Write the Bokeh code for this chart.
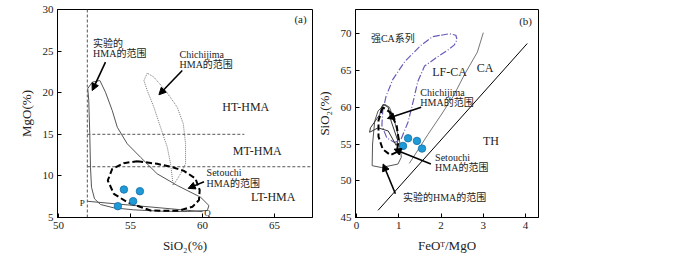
from bokeh.plotting import figure
from bokeh.layouts import row
from bokeh.models import Arrow, NormalHead, FixedTicker
from bokeh.core.properties import value
from bokeh.embed import file_html
from bokeh.resources import INLINE

FONT = "Liberation Serif, Noto Sans CJK SC"

# ---------------- panel (a) data ----------------
a_xticks = [50, 55, 60, 65]
a_yticks = [5, 10, 15, 20, 25, 30]
exp_a_x = [52.34, 52.87, 53.26, 53.73, 54.08, 54.77, 55.69, 56.85, 58.24, 59.86, 60.44, 60.33,
           58.94, 57.09, 55.23, 53.84, 52.92, 52.5, 52.29, 52.22, 52.17, 52.1, 52.03, 52.34]
exp_a_y = [21.26, 21.47, 20.06, 17.86, 15.85, 13.86, 12.25, 10.25, 8.85, 7.44, 6.44, 5.84,
           5.72, 5.76, 5.92, 6.16, 6.56, 7.24, 8.64, 11.05, 15.06, 19.06, 20.5, 21.26]
chi_a_x = [55.93, 56.16, 56.62, 57.08, 57.55, 57.78, 57.96, 58.47, 58.82, 58.82, 58.66, 58.24,
           57.43, 56.62, 56.16, 55.93]
chi_a_y = [21.47, 20.26, 18.26, 15.85, 13.45, 11.45, 8.85, 10.25, 11.45, 13.86, 16.26, 18.26,
           20.26, 21.87, 22.35, 21.47]
set_a_x = [55.46, 56.85, 57.9, 58.7, 59.5, 59.8, 59.75, 59.3, 58.3, 56.39, 54.77, 53.84, 53.42,
           53.73, 54.53, 55.46]
set_a_y = [11.77, 11.45, 11.05, 10.6, 9.7, 8.3, 7.1, 6.3, 5.8, 5.84, 6.84, 7.85, 9.45,
           10.85, 11.53, 11.77]
pq_x = [52.0, 60.0]
pq_y = [6.95, 5.7]
pts_a_x = [54.54, 55.65, 55.18, 54.12]
pts_a_y = [8.36, 8.16, 6.96, 6.36]

# ---------------- panel (b) data ----------------
b_xticks = [0, 1, 2, 3, 4]
b_yticks = [45, 50, 55, 60, 65, 70]
th_x = [0.51, 4.04]
th_y = [45.98, 68.67]
ca_x = [1.25, 1.69, 2.0, 2.3, 2.55, 2.86, 3.0]
ca_y = [52.36, 56.3, 58.94, 61.6, 64.4, 67.5, 70.15]
sca_x = [2.0, 2.2, 2.35, 2.38, 2.31, 2.16, 1.92, 1.61, 1.45, 1.35, 1.22, 1.05, 0.9, 0.72, 0.6,
         0.62, 0.7, 0.86, 1.14, 1.53, 1.8, 2.0]
sca_y = [69.8, 70.0, 69.8, 69.2, 68.45, 67.78, 66.87, 65.6, 63.5, 61.0, 58.0, 55.6, 55.2, 55.8,
         57.5, 59.5, 61.5, 63.8, 66.2, 68.45, 69.6, 69.8]
chi_b_x = [0.63, 0.75, 0.82, 0.98, 0.94, 0.75, 0.51, 0.31, 0.33, 0.55, 0.59, 0.63]
chi_b_y = [60.4, 60.0, 58.1, 55.4, 54.8, 56.77, 57.2, 56.6, 57.2, 59.0, 60.0, 60.4]
exp_b_x = [0.67, 0.78, 0.9, 1.02, 1.06, 0.98, 0.59, 0.37, 0.38, 0.43, 0.51, 0.67]
exp_b_y = [60.4, 60.0, 58.1, 55.4, 53.2, 52.27, 51.8, 52.05, 55.0, 58.1, 59.5, 60.4]
set_b_x = [0.62, 0.52, 0.52, 0.62, 0.8, 0.95, 1.0, 0.95, 0.8, 0.62]
set_b_y = [60.0, 58.2, 56.0, 54.3, 53.5, 53.9, 55.5, 57.5, 59.3, 60.0]
pts_b_x = [1.1, 1.22, 1.43, 1.55]
pts_b_y = [54.74, 55.78, 55.42, 54.38]

TXT = "#222222"


def style(p, xticks, yticks, xlabel, ylabel):
    p.xgrid.visible = False
    p.ygrid.visible = False
    p.outline_line_color = "black"
    p.outline_line_width = 1
    p.xaxis.ticker = FixedTicker(ticks=xticks)
    p.yaxis.ticker = FixedTicker(ticks=yticks)
    p.xaxis.axis_label = xlabel
    p.yaxis.axis_label = ylabel
    for ax in (p.xaxis, p.yaxis):
        ax.major_tick_in = 4
        ax.major_tick_out = 0
        ax.minor_tick_in = 0
        ax.minor_tick_out = 0
        ax.axis_line_color = "black"
        ax.major_tick_line_color = "black"
        ax.major_label_text_font = FONT
        ax.major_label_text_font_size = "11px"
        ax.major_label_text_color = TXT
        ax.axis_label_text_font = FONT
        ax.axis_label_text_font_size = "13px"
        ax.axis_label_text_font_style = "normal"
        ax.axis_label_text_color = TXT
        ax.major_label_standoff = 4
        ax.axis_label_standoff = 6


def txt(p, x, y, s, size="10px", align="left"):
    p.text(x=[x], y=[y], text=[s], text_font=value(FONT), text_font_size=size,
           text_align=align, text_baseline="middle", text_color=TXT)


def arrows(p, xs, ys, xe, ye):
    for a, b, c, d in zip(xs, ys, xe, ye):
        p.add_layout(Arrow(x_start=a, y_start=b, x_end=c, y_end=d, line_width=1.6,
                           line_color="black",
                           end=NormalHead(size=7, fill_color="black", line_color="black")))


# ---------------- figure (a) ----------------
p1 = figure(width=313, height=260, x_range=(49.93, 67.63), y_range=(5, 30),
            output_backend="svg", toolbar_location=None,
            min_border_left=57, min_border_right=1, min_border_top=9, min_border_bottom=43)
style(p1, a_xticks, a_yticks, "SiO₂(%)", "MgO(%)")

p1.line([52, 52], [5, 30], line_color="#555555", line_width=1, line_dash="3 2")
p1.line([52, 62.9], [15, 15], line_color="#555555", line_width=1, line_dash="3 2")
p1.line([52, 67.63], [11.1, 11.1], line_color="#555555", line_width=1, line_dash="3 2")
p1.line(exp_a_x, exp_a_y, line_color="#555555", line_width=1)
p1.line(pq_x, pq_y, line_color="#555555", line_width=1)
p1.line(chi_a_x, chi_a_y, line_color="#777777", line_width=1, line_dash="1 1")
p1.line(set_a_x, set_a_y, line_color="black", line_width=2, line_dash="6 3")
p1.scatter(pts_a_x, pts_a_y, size=7.5, fill_color="#1e9ad6", line_color="#1670a8", line_width=0.8)

txt(p1, 63.0, 18.3, "HT-HMA", "12px", "center")
txt(p1, 63.8, 13.05, "MT-HMA", "12px", "center")
txt(p1, 64.9, 7.44, "LT-HMA", "12px", "center")
txt(p1, 66.8, 28.8, "(a)", "11px", "center")
txt(p1, 52.4, 25.87, "实验的")
txt(p1, 52.4, 24.67, "HMA的范围")
txt(p1, 58.4, 24.55, "Chichijima")
txt(p1, 58.4, 23.35, "HMA的范围")
txt(p1, 60.28, 10.37, "Setouchi")
txt(p1, 60.28, 9.12, "HMA的范围")
txt(p1, 51.64, 6.8, "P", "9px", "center")
txt(p1, 60.35, 5.5, "Q", "9px", "center")
arrows(p1, [53.26, 58.59, 60.1], [23.67, 22.67, 9.3], [52.34, 56.97, 59.0], [20.26, 19.75, 8.5])

# ---------------- figure (b) ----------------
p2 = figure(width=387, height=260, x_range=(-0.024, 4.306), y_range=(45, 73.3),
            output_backend="svg", toolbar_location=None,
            min_border_left=41, min_border_right=162, min_border_top=7, min_border_bottom=43)
style(p2, b_xticks, b_yticks, "FeOᵀ/MgO", "SiO₂(%)")

p2.line(th_x, th_y, line_color="black", line_width=1)
p2.line(ca_x, ca_y, line_color="#777777", line_width=1)
p2.line(sca_x, sca_y, line_color="#6a5ab8", line_width=1.2, line_dash="7 2 1 2")
p2.line(exp_b_x, exp_b_y, line_color="#555555", line_width=1)
p2.line(chi_b_x, chi_b_y, line_color="#333333", line_width=1)
p2.line(set_b_x, set_b_y, line_color="black", line_width=2, line_dash="6 3")
p2.scatter(pts_b_x, pts_b_y, size=7.5, fill_color="#1e9ad6", line_color="#1670a8", line_width=0.8)

txt(p2, 0.34, 69.35, "强CA系列")
txt(p2, 2.2, 64.85, "LF-CA", "12px", "center")
txt(p2, 3.04, 65.3, "CA", "12px", "center")
txt(p2, 3.18, 55.4, "TH", "12px", "center")
txt(p2, 4.0, 71.8, "(b)", "11px", "center")
txt(p2, 1.51, 62.06, "Chichijima")
txt(p2, 1.51, 60.67, "HMA的范围")
txt(p2, 1.86, 53.17, "Setouchi")
txt(p2, 1.86, 51.82, "HMA的范围")
txt(p2, 1.1, 47.78, "实验的HMA的范围")
arrows(p2, [1.53, 1.76, 0.92], [60.0, 52.28, 48.23], [0.73, 0.89, 0.63], [58.48, 54.3, 52.28])

layout = row(p1, p2)
open("out.html", "w").write(file_html(layout, INLINE))
